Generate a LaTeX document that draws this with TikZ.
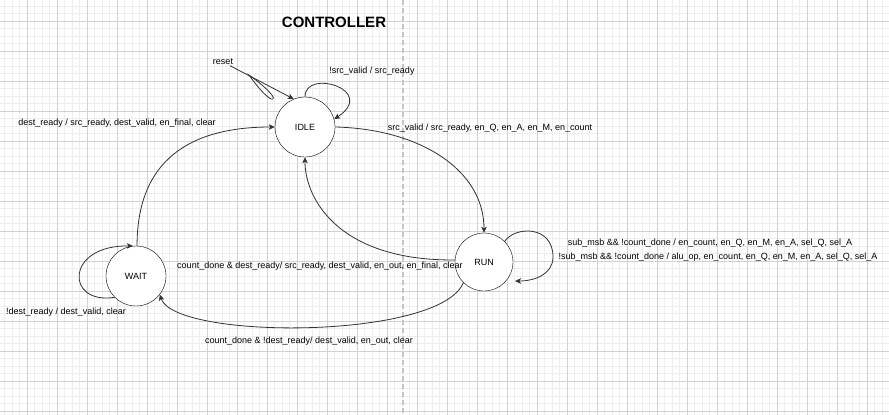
\documentclass[tikz,border=0pt]{standalone}
\usepackage{fontspec}
\setmainfont{Liberation Sans}
\usetikzlibrary{arrows.meta,positioning}
\definecolor{gridmajor}{HTML}{D2D2D2}
\definecolor{gridminor}{HTML}{EEEEEE}
\definecolor{edgegray}{HTML}{333333}

\begin{document}
\begin{tikzpicture}[
    x=1pt, y=-1pt,
    state/.style={draw, circle, fill=white, minimum size=60pt, inner sep=0pt,
    font=\fontsize{9}{11}\selectfont},
    lbl/.style={inner sep=0.5pt, font=\fontsize{9}{11}\selectfont},
    arr/.style={-{Stealth[length=6pt,width=5.5pt,inset=1.5pt]}, edgegray, line width=0.8pt}
]
\useasboundingbox (0,0) rectangle (889,415);
\fill[white] (0,0) rectangle (889,415);

% grid of the canvas
\foreach \i in {0,...,118} \draw[gridminor, line width=0.8pt] ({4.8+7.5*\i},0) -- ({4.8+7.5*\i},415);
\foreach \i in {0,...,54} \draw[gridminor, line width=0.8pt] (0,{6.3+7.5*\i}) -- (889,{6.3+7.5*\i});
\foreach \i in {0,...,28} \draw[gridmajor, line width=0.8pt] ({27.3+30*\i},0) -- ({27.3+30*\i},415);
\foreach \i in {0,...,13} \draw[gridmajor, line width=0.8pt] (0,{21.3+30*\i}) -- (889,{21.3+30*\i});
\draw[gray!45, line width=1.3pt, dash pattern=on 5pt off 3pt] (403,0) -- (403,415);

\node[font=\bfseries\fontsize{15}{17}\selectfont] (title) at (334,22) {CONTROLLER};

% states
\node[state] (idle) at (305,127) {IDLE};
\node[state, minimum size=58pt] (run) at (484,262) {RUN};
\node[state] (wait) at (136,276) {WAIT};
\coordinate (runloopend) at (515,281);

% reset
\node[lbl] (reset) at (223,62) {reset};
\draw[arr] (reset) -- (idle.112);
\draw[edgegray, line width=0.8pt] (249,75) .. controls (262,84) and (276,97) .. (273,99)
    .. controls (270,101) and (258,88) .. cycle;

% transitions
\draw[arr] (idle.north) .. controls (305,68) and (378,90) .. (idle.15);
\draw[arr] (idle.east) .. controls (420,129) and (484,170) .. (run.north);
\draw[arr] (run.176) .. controls (340,261) and (305,200) .. (idle.south);
\draw[arr] (run.225) .. controls (440,340) and (175,340) .. (wait.-38);
\draw[arr] (wait.88) .. controls (137,160) and (190,127) .. (idle.west);
\draw[arr] (run.45) .. controls (515,226) and (553,225) .. (553,257)
    .. controls (553,274) and (535,281) .. (runloopend);
\draw[arr] (wait.225) .. controls (65,305) and (65,245) .. (wait.96);

% labels
\node[lbl] (l1) at (372,71) {!src\_valid / src\_ready};
\node[lbl] (l2) at (490,128) {src\_valid / src\_ready, en\_Q, en\_A, en\_M, en\_count};
\node[lbl] (l3) at (117,123) {dest\_ready / src\_ready, dest\_valid, en\_final, clear};
\node[lbl] (l4) at (320,266) {count\_done \& dest\_ready/ src\_ready, dest\_valid, en\_out, en\_final, clear};
\node[lbl] (l5) at (309,341) {count\_done \& !dest\_ready/ dest\_valid, en\_out, clear};
\node[lbl] (l6) at (66,312) {!dest\_ready / dest\_valid, clear};
\node[lbl] (l7) at (710,243) {sub\_msb \&\& !count\_done / en\_count, en\_Q, en\_M, en\_A, sel\_Q, sel\_A};
\node[lbl] (l8) at (718,257) {!sub\_msb \&\& !count\_done / alu\_op, en\_count, en\_Q, en\_M, en\_A, sel\_Q, sel\_A};
\end{tikzpicture}
\end{document}
